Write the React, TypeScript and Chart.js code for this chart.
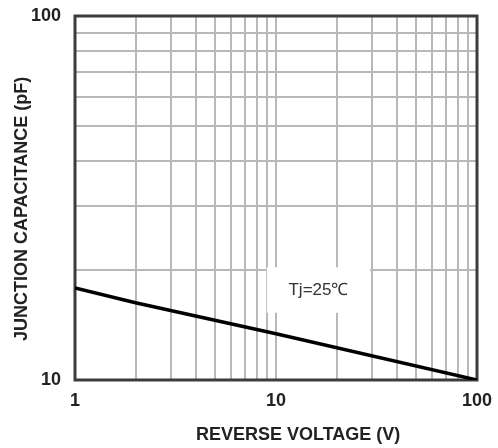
import { useEffect, useRef } from 'react';
import { Chart, registerables } from 'chart.js';

Chart.register(...registerables);

// ---- data ----
const reverseVoltage = [1, 2, 10, 100];
const junctionCapacitance = [17.9, 16.3, 13.4, 10];
const xGridValues = [1, 2, 3, 4, 5, 6, 7, 8, 9, 10, 20, 30, 40, 50, 60, 70, 80, 90, 100];
const yGridValues = [10, 20, 30, 40, 50, 60, 70, 80, 90, 100];
const xTickLabels = [1, 10, 100];
const yTickLabels = [10, 100];
const xTitle = 'REVERSE VOLTAGE (V)';
const yTitle = 'JUNCTION CAPACITANCE (pF)';
const noteText = 'Tj=25℃';
const noteBoxX = [9, 29.4];
const noteBoxY = [15.3, 20.4];

const FONT = '"Liberation Sans", Arial, sans-serif';

const decorPlugin = {
  id: 'decor',
  beforeDatasetsDraw(chart: any) {
    const { ctx, chartArea: a, scales } = chart;
    const x = scales.x;
    const y = scales.y;
    ctx.save();
    const bx0 = x.getPixelForValue(noteBoxX[0]);
    const bx1 = x.getPixelForValue(noteBoxX[1]);
    const by0 = y.getPixelForValue(noteBoxY[1]);
    const by1 = y.getPixelForValue(noteBoxY[0]);
    ctx.fillStyle = '#ffffff';
    ctx.fillRect(bx0, by0, bx1 - bx0, by1 - by0);
    ctx.strokeStyle = '#3c3c3c';
    ctx.lineWidth = 3;
    ctx.strokeRect(a.left, a.top, a.right - a.left, a.bottom - a.top);
    ctx.fillStyle = '#333333';
    ctx.font = '17px ' + FONT;
    ctx.textAlign = 'center';
    ctx.textBaseline = 'middle';
    ctx.fillText(noteText, (bx0 + bx1) / 2, (by0 + by1) / 2);
    ctx.restore();
  },
  afterDraw(chart: any) {
    const { ctx, chartArea: a } = chart;
    ctx.save();
    ctx.fillStyle = '#222222';
    ctx.font = 'bold 18px ' + FONT;
    ctx.textAlign = 'center';
    ctx.textBaseline = 'middle';
    ctx.fillText(xTitle, a.left + (a.right - a.left) * 0.555, a.bottom + 55);
    ctx.translate(22, a.top + (a.bottom - a.top) * 0.53);
    ctx.rotate(-Math.PI / 2);
    ctx.fillText(yTitle, 0, 0);
    ctx.restore();
  },
};

export default function App() {
  const canvasRef = useRef<HTMLCanvasElement | null>(null);

  useEffect(() => {
    if (!canvasRef.current) return;
    const chart = new Chart(canvasRef.current, {
      type: 'line',
      data: {
        datasets: [
          {
            data: reverseVoltage.map((v, i) => ({ x: v, y: junctionCapacitance[i] })),
            borderColor: '#000000',
            borderWidth: 3.5,
            pointRadius: 0,
            tension: 0,
            fill: false,
          },
        ],
      },
      options: {
        animation: false,
        responsive: false,
        devicePixelRatio: 1,
        layout: { padding: { top: 16, right: 21, left: 0, bottom: 0 } },
        plugins: {
          legend: { display: false },
          tooltip: { enabled: false },
          title: { display: false },
        },
        scales: {
          x: {
            type: 'logarithmic',
            min: 1,
            max: 100,
            afterBuildTicks: (s: any) => {
              s.ticks = xGridValues.map((v) => ({ value: v, major: xTickLabels.includes(v) }));
            },
            afterFit: (s: any) => {
              s.height = 68;
              s.paddingLeft = 0;
              s.paddingRight = 0;
            },
            border: { display: false },
            grid: { color: '#b8b8b8', lineWidth: 2, drawTicks: false },
            ticks: {
              padding: 10,
              color: '#222222',
              font: { family: FONT, size: 18, weight: 'bold' },
              autoSkip: false,
              maxRotation: 0,
              callback: (val: any) => (xTickLabels.includes(Number(val)) ? String(val) : ''),
            },
          },
          y: {
            type: 'logarithmic',
            min: 10,
            max: 100,
            afterBuildTicks: (s: any) => {
              s.ticks = yGridValues.map((v) => ({ value: v, major: yTickLabels.includes(v) }));
            },
            afterFit: (s: any) => {
              s.width = 75;
              s.paddingTop = 0;
              s.paddingBottom = 0;
            },
            border: { display: false },
            grid: { color: '#b8b8b8', lineWidth: 2, drawTicks: false },
            ticks: {
              padding: 14,
              color: '#222222',
              font: { family: FONT, size: 18, weight: 'bold' },
              autoSkip: false,
              callback: (val: any) => (yTickLabels.includes(Number(val)) ? String(val) : ''),
            },
          },
        },
      },
      plugins: [decorPlugin],
    } as any);
    return () => chart.destroy();
  }, []);

  return (
    <div style={{ position: 'absolute', left: 0, top: 0, width: 498, height: 448, background: '#fff' }}>
      <canvas ref={canvasRef} width={498} height={448} style={{ display: 'block' }} />
    </div>
  );
}
